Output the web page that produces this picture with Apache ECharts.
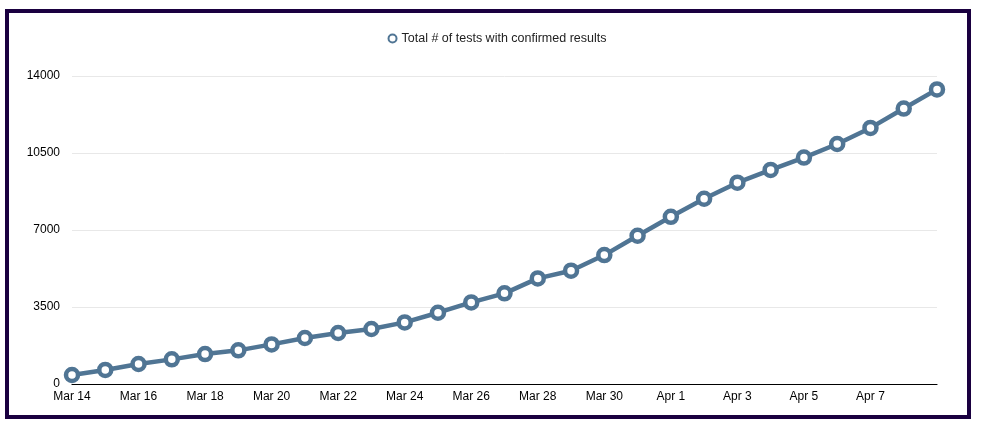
<!DOCTYPE html>
<html>
<head>
<meta charset="utf-8">
<script src="https://cdn.jsdelivr.net/npm/echarts@6/dist/echarts.min.js"></script>
<style>
html,body{margin:0;padding:0;background:#fff;}
#c{width:994px;height:439px;}
</style>
</head>
<body>
<div id="c"></div>
<script>
const categories = ["Mar 14","Mar 15","Mar 16","Mar 17","Mar 18","Mar 19","Mar 20","Mar 21","Mar 22","Mar 23","Mar 24","Mar 25","Mar 26","Mar 27","Mar 28","Mar 29","Mar 30","Mar 31","Apr 1","Apr 2","Apr 3","Apr 4","Apr 5","Apr 6","Apr 7","Apr 8","Apr 9"];
const seriesName = "Total # of tests with confirmed results";
const testsConfirmed = [410,640,910,1120,1360,1530,1800,2090,2320,2500,2800,3240,3710,4120,4800,5150,5860,6740,7600,8420,9150,9730,10290,10910,11640,12520,13390];
const yTicks = [0,3500,7000,10500,14000];

const chart = echarts.init(document.getElementById('c'));
const color = '#507594';
chart.setOption({
  animation:false,
  backgroundColor:'#fff',
  textStyle:{fontFamily:'Liberation Sans, Arial, sans-serif'},
  graphic:[{
    type:'rect', shape:{x:7,y:11,width:962,height:406},
    style:{fill:null,stroke:'#1a0040',lineWidth:4}, silent:true, z:100
  }],
  legend:{
    top:27, left:'center',
    itemWidth:8, itemHeight:8, itemGap:8,
    textStyle:{color:'#222',fontSize:12.5,fontFamily:'Liberation Sans, Arial, sans-serif'},
    data:[{name:seriesName, icon:'circle', itemStyle:{color:'#fff', borderColor:color, borderWidth:2}}]
  },
  grid:{left:72,right:57,top:76,bottom:55,containLabel:false},
  xAxis:{
    type:'category', data:categories, boundaryGap:false,
    axisLine:{lineStyle:{color:'#000',width:1.2}},
    axisTick:{show:false},
    axisLabel:{color:'#000',fontSize:12,margin:7,
      interval:function(i){return i%2===0 && i<26;}},
    splitLine:{show:false}
  },
  yAxis:{
    type:'value', min:0, max:14000, interval:3500,
    axisLine:{show:false}, axisTick:{show:false},
    axisLabel:{color:'#000',fontSize:12,margin:12,
      formatter:function(v){return yTicks.indexOf(v)>=0?String(v):'';}},
    splitLine:{lineStyle:{color:'#e8e8e8',width:1}}
  },
  series:[{
    name:seriesName, type:'line', data:testsConfirmed,
    symbol:'circle', symbolSize:12, showAllSymbol:true,
    lineStyle:{color:color,width:4.5},
    itemStyle:{color:'#fff',borderColor:color,borderWidth:4.5}
  }]
});
</script>
</body>
</html>
